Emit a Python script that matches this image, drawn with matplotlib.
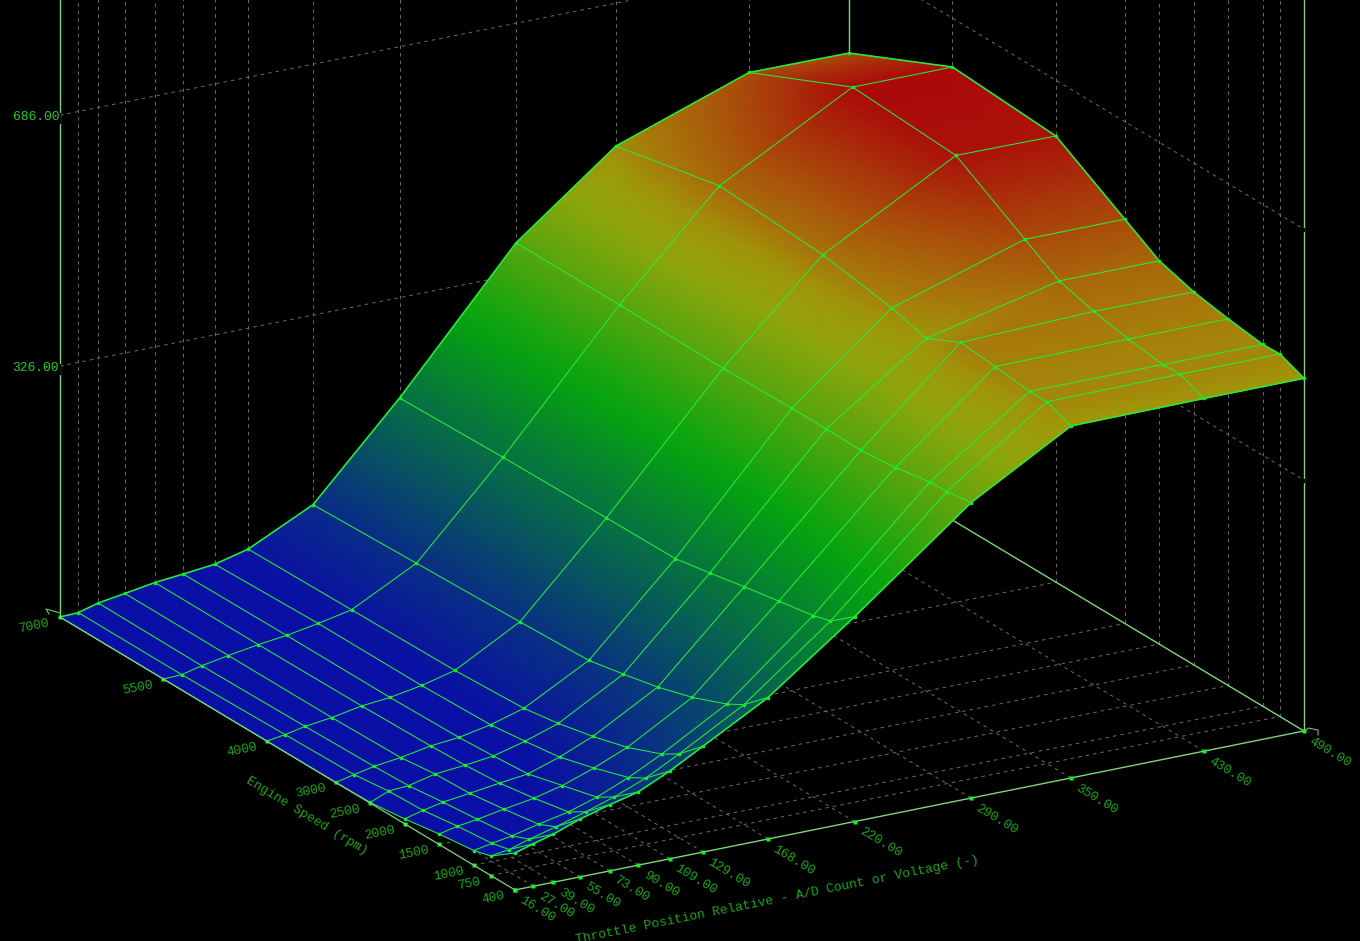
import numpy as np
import matplotlib
matplotlib.use("Agg")
import matplotlib.pyplot as plt
from matplotlib.colors import LinearSegmentedColormap, Normalize

tps_vals = [16, 27, 39, 55, 73, 90, 109, 129, 168, 220, 290, 350, 430, 490]
rpm_vals = [7000, 5500, 4000, 3000, 2500, 2000, 1500, 1000, 750, 400]
z_levels = [326, 686, 1046]
z_labels = [326, 686]
z_floor = -34

z_7000 = [-34, -33, -25, -19, -12, -8, -3, 9, 54, 182, 371, 481, 548, 547]
z_5500 = [-34, -33, -26, -19, -12, -7, 1, 11, 59, 186, 371, 513, 616, 616]
z_4000 = [-34, -30, -24, -19, -11, -7, 1, 13, 64, 188, 369, 503, 607, 606]
z_3000 = [-34, -28, -22, -17, -9, -5, 4, 18, 68, 189, 371, 486, 546, 546]
z_2500 = [-33, -22, -20, -11, -7, -2, 10, 26, 78, 198, 371, 472, 516, 516]
z_2000 = [-27, -20, -14, -9, -3, 2, 17, 37, 89, 208, 370, 496, 502, 501]
z_1500 = [-19, -13, -9, -2, 5, 15, 31, 51, 104, 217, 375, 491, 492, 492]
z_1000 = [-13, -8, -3, 6, 15, 28, 47, 71, 124, 226, 384, 485, 485, 485]
z_0750 = [-6, -2, 7, 17, 30, 43, 61, 86, 138, 233, 385, 485, 486, 486]
z_0400 = [19, 27, 35, 49, 61, 71, 92, 118, 169, 260, 390, 471, 472, 472]

Z = np.array([z_7000, z_5500, z_4000, z_3000, z_2500, z_2000, z_1500, z_1000, z_0750, z_0400], float)
T, R = np.meshgrid(np.array(tps_vals, float), np.array(rpm_vals, float))

W, H = 1360, 941


def project(tps, rpm, z):
    tps, rpm, z = np.asarray(tps, float), np.asarray(rpm, float), np.asarray(z, float)
    x = 60 + (tps - 16) * 1.6646 + (7000 - rpm) * 0.06894
    y = 617 - (tps - 16) * 0.3354 + (7000 - rpm) * 0.04136 - (z - z_floor) * 0.697
    return x, y


def refine(a, n):
    r, c = a.shape
    iu = np.linspace(0, r - 1, (r - 1) * n + 1)
    iv = np.linspace(0, c - 1, (c - 1) * n + 1)
    tmp = np.array([np.interp(iv, np.arange(c), row) for row in a])
    return np.array([np.interp(iu, np.arange(r), col) for col in tmp.T]).T


plt.rcParams['font.family'] = ['Liberation Mono', 'DejaVu Sans Mono']
fig = plt.figure(figsize=(W / 100, H / 100), dpi=100, facecolor='black')
ax = fig.add_axes([0, 0, 1, 1])
ax.set_xlim(0, W)
ax.set_ylim(H, 0)
ax.axis('off')

GRID = '#667066'
AXIS = '#7fd47f'
MESH = '#24ec3a'
NODE = '#12f026'
LAB = '#1ca41c'
dash = (0, (3.6, 4.2))
tmin, tmax = tps_vals[0], tps_vals[-1]
rmin, rmax = rpm_vals[-1], rpm_vals[0]
ztop = 1500


def line(t, r, z, **kw):
    x, y = project(t, r, z)
    ax.plot(x, y, **kw)


gkw = dict(color=GRID, lw=0.7, ls=dash, zorder=1)
# floor grid
for r in rpm_vals[1:-1]:
    line([tmin, tmax], [r, r], [z_floor, z_floor], **gkw)
for t in tps_vals[1:-1]:
    line([t, t], [rmin, rmax], [z_floor, z_floor], **gkw)
# back wall and right wall grid
for t in tps_vals[1:-1]:
    line([t, t], [rmax, rmax], [z_floor, ztop], **gkw)
for r in rpm_vals[1:-1]:
    line([tmax, tmax], [r, r], [z_floor, ztop], **gkw)
for z in z_levels:
    line([tmin, tmax], [rmax, rmax], [z, z], **gkw)
    line([tmax, tmax], [rmax, rmin], [z, z], **gkw)

# box axes
akw = dict(color=AXIS, lw=1.0, zorder=2)
line([tmin, tmin], [rmax, rmax], [z_floor, ztop], **akw)
line([tmax, tmax], [rmax, rmax], [z_floor, ztop], **akw)
line([tmax, tmax], [rmin, rmin], [z_floor, ztop], **akw)
line([tmax, tmax], [rmax, rmin], [z_floor, z_floor], **akw)
line([tmin, tmax], [rmin, rmin], [z_floor, z_floor], **akw)

# gaps on the axes at the wall levels, and corner ticks
for z in z_labels:
    x, y = project(tmin, rmax, z)
    ax.plot([x, x], [y - 1, y + 8], color='black', lw=1.6, zorder=2.5)
    x, y = project(tmax, rmin, z)
    ax.plot([x, x], [y, y + 2], color='black', lw=1.6, zorder=2.5)
cx, cy = project(tmin, rmax, z_floor)
ax.plot([cx, cx - 14, cx - 11], [cy - 4, cy - 8, cy - 3], color=AXIS, lw=0.7, zorder=2)
cx, cy = project(tmax, rmin, z_floor)
ax.plot([cx + 1, cx + 4, cx + 14, cx + 14], [cy, cy - 3, cy - 1, cy + 4], color=AXIS, lw=0.7, zorder=2)

# tick dots on floor axes
x, y = project(tps_vals, [rmin] * len(tps_vals), [z_floor] * len(tps_vals))
ax.plot(x, y, ls='none', marker='s', ms=2.2, mec='none', color=NODE, zorder=3)
x, y = project([tmin] * len(rpm_vals), rpm_vals, [z_floor] * len(rpm_vals))
ax.plot(x, y, ls='none', marker='s', ms=2.2, mec='none', color=NODE, zorder=3)

# surface
stops_z = [0, 285, 430, 472, 500, 616]
stops_c = ['#0a0fa5', '#05a50f', '#8fa50c', '#a0960a', '#a8760a', '#aa0a0a']
norm = Normalize(stops_z[0], stops_z[-1])
cmap = LinearSegmentedColormap.from_list(
    'surf', [(norm(v), c) for v, c in zip(stops_z, stops_c)], N=512)
n = 8
Tf, Rf, Zf = refine(T, n), refine(R, n), refine(Z, n)
Xf, Yf = project(Tf, Rf, Zf)
ax.pcolormesh(Xf, Yf, Zf, cmap=cmap, norm=norm, shading='gouraud', zorder=4)

# mesh lines
X, Y = project(T, R, Z)
for i in range(len(rpm_vals)):
    ax.plot(X[i], Y[i], color=MESH, lw=1.15 if i in (0, len(rpm_vals) - 1) else 0.75, zorder=5)
for j in range(len(tps_vals)):
    ax.plot(X[:, j], Y[:, j], color=MESH, lw=1.15 if j == len(tps_vals) - 1 else 0.75, zorder=5)
ax.plot(X.ravel(), Y.ravel(), ls='none', marker='o', ms=2.6, mec='none', color=NODE, zorder=6)
line([tmin, tmin], [rmax, rmin], [z_floor, z_floor], color=AXIS, lw=0.9, zorder=7)

# labels
for z in z_labels:
    x, y = project(tmin, rmax, z)
    ax.text(x - 1, y + 2, f"{z:.2f}", color='#22cc22', fontsize=9.4, ha='right', va='center', zorder=8)
for r in rpm_vals:
    x, y = project(tmin, r, z_floor)
    ax.text(x - 10, y + 6, str(r), color=LAB, fontsize=9.4, rotation=11.3, rotation_mode='anchor',
            ha='right', va='center', zorder=8)
for t in tps_vals:
    x, y = project(t, rmin, z_floor)
    ax.text(x + 6, y + 9, f"{t:.2f}", color=LAB, fontsize=9.4, rotation=-31.2, rotation_mode='anchor',
            ha='left', va='center', zorder=8)
ax.text(307, 816, "Engine Speed (rpm)", color=LAB, fontsize=9.4, rotation=-31.2, rotation_mode='anchor',
        ha='center', va='center', zorder=8)
ax.text(777, 900, "Throttle Position Relative - A/D Count or Voltage (-)", color=LAB, fontsize=9.4,
        rotation=11.3, rotation_mode='anchor', ha='center', va='center', zorder=8, clip_on=True)

fig.savefig('out.png', dpi=100, facecolor='black')
